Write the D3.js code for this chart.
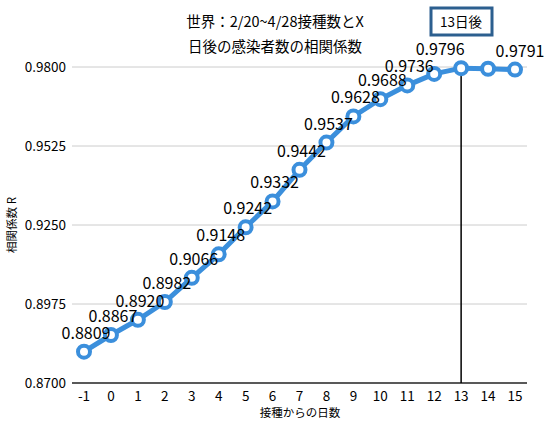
<!DOCTYPE html><html><head><meta charset="utf-8"><script src="https://cdn.jsdelivr.net/npm/d3@7"></script>
<style>body{margin:0;background:#fff}text{font-family:"Noto Sans CJK JP",sans-serif}</style></head><body><svg id="c" width="551" height="427"></svg><script>
const days=[-1,0,1,2,3,4,5,6,7,8,9,10,11,12,13,14,15];
const values=[0.8809,0.8867,0.8920,0.8982,0.9066,0.9148,0.9242,0.9332,0.9442,0.9537,0.9628,0.9688,0.9736,0.9776,0.9796,0.9794,0.9791];
const showLabel=[1,1,1,1,1,1,1,1,1,1,1,1,1,0,1,0,1];
const yTicks=[0.8700,0.8975,0.9250,0.9525,0.9800];
const svg=d3.select("#c");
const x=d3.scaleLinear().domain([-1,15]).range([84,515]);
const y=d3.scaleLinear().domain([0.87,0.98]).range([383,67]);
svg.append("g").selectAll("line").data(yTicks).join("line").attr("x1",72).attr("x2",527).attr("y1",d=>y(d)).attr("y2",d=>y(d)).attr("stroke",d=>d===0.87?"#222":"#ccc").attr("stroke-width",d=>d===0.87?1.5:1);
svg.append("g").selectAll("text").data(yTicks).join("text").attr("x",66).attr("y",d=>y(d)+5).attr("text-anchor","end").attr("font-size",13.5).text(d=>d.toFixed(4));
svg.append("g").selectAll("text").data(days).join("text").attr("x",d=>x(d)).attr("y",401).attr("text-anchor","middle").attr("font-size",13.5).text(d=>d);
svg.append("line").attr("x1",x(13)).attr("x2",x(13)).attr("y1",y(0.9796)).attr("y2",383).attr("stroke","#000").attr("stroke-width",1.5);
svg.append("path").datum(days.map((d,i)=>[d,values[i]])).attr("d",d3.line().x(d=>x(d[0])).y(d=>y(d[1]))).attr("fill","none").attr("stroke","#3b8fdc").attr("stroke-width",5);
svg.append("g").selectAll("circle").data(days).join("circle").attr("cx",d=>x(d)).attr("cy",(d,i)=>y(values[i])).attr("r",6).attr("fill","#fff").attr("stroke","#3b8fdc").attr("stroke-width",4);
svg.append("g").selectAll("text").data(days.filter((d,i)=>showLabel[i])).join("text")
 .attr("x",d=>x(d)+(d===15?5:d===13?-21:2)).attr("y",d=>y(values[days.indexOf(d)])-13).attr("text-anchor","middle").attr("font-size",16).text(d=>values[days.indexOf(d)].toFixed(4));
svg.append("text").attr("x",275).attr("y",27).attr("text-anchor","middle").attr("font-size",14.5).text("世界：2/20~4/28接種数とX");
svg.append("text").attr("x",275).attr("y",52).attr("text-anchor","middle").attr("font-size",14.5).text("日後の感染者数の相関係数");
svg.append("rect").attr("x",431).attr("y",8).attr("width",61).attr("height",27).attr("fill","#fff").attr("stroke","#2c5f8f").attr("stroke-width",3);
svg.append("text").attr("x",461).attr("y",27).attr("text-anchor","middle").attr("font-size",13.5).text("13日後");
svg.append("text").attr("transform","translate(16,225) rotate(-90)").attr("text-anchor","middle").attr("font-size",11.5).text("相関係数 R");
svg.append("text").attr("x",300).attr("y",417).attr("text-anchor","middle").attr("font-size",11.5).text("接種からの日数");
</script></body></html>
